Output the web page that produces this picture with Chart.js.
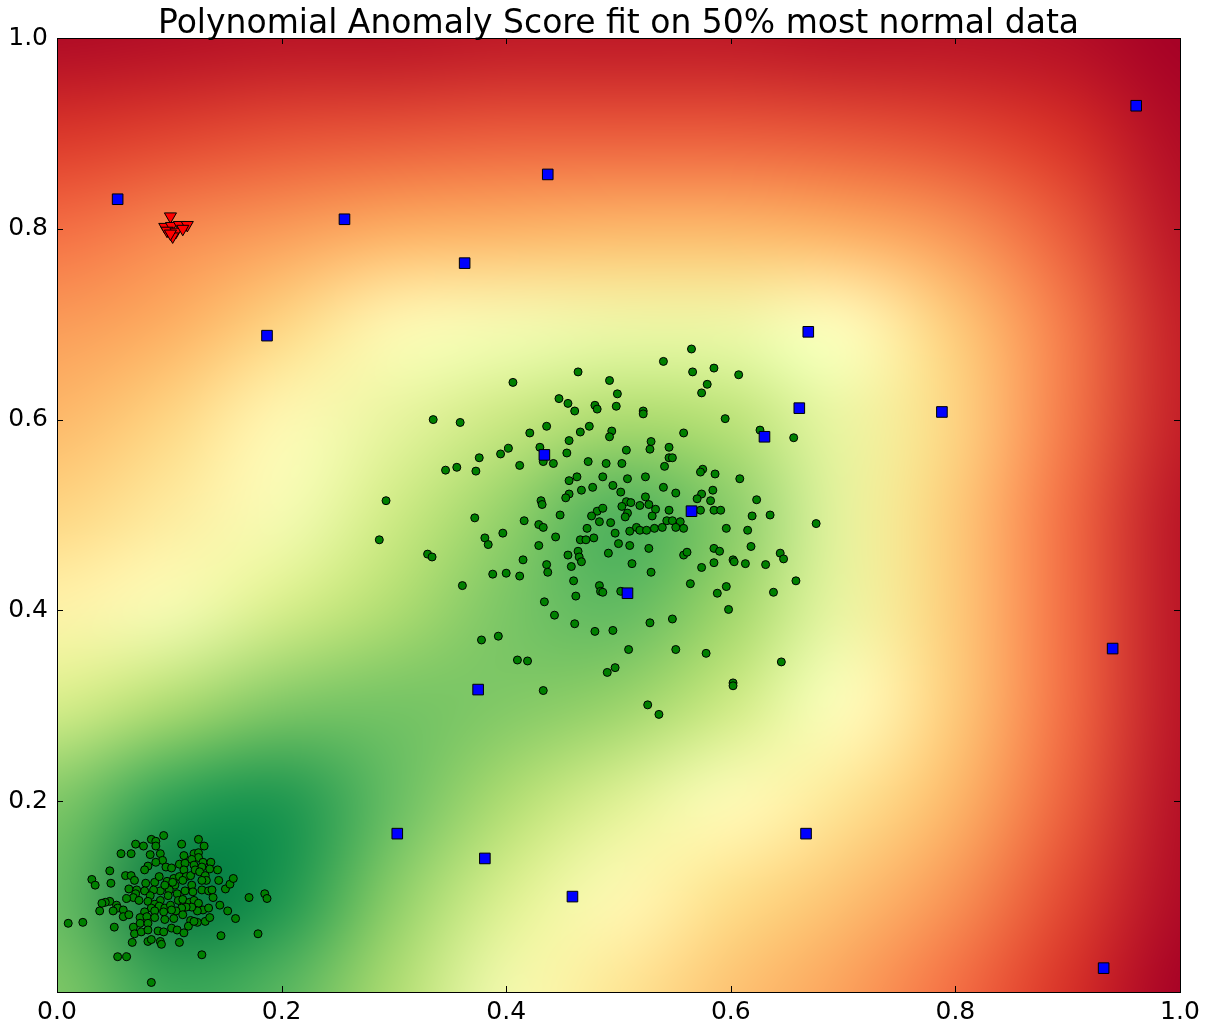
<!DOCTYPE html>
<html>
<head>
<meta charset="utf-8">
<script src="https://cdn.jsdelivr.net/npm/chart.js@4/dist/chart.umd.min.js"></script>
<style>
  html, body { margin: 0; padding: 0; background: #fff; }
  #wrap { width: 1212px; height: 1025px; }
</style>
</head>
<body>
<div id="wrap"><canvas id="chart"></canvas></div>
<script>
// ---- data ----
const titleText = 'Polynomial Anomaly Score fit on 50% most normal data';
const xTickValues = [0, 0.2, 0.4, 0.6, 0.8, 1.0];
const yTickValues = [0.2, 0.4, 0.6, 0.8, 1.0];

// normal samples, cluster near the origin
const lowerCluster = [
  [0.084,0.160],[0.095,0.164],[0.088,0.158],[0.088,0.153],[0.126,0.160],[0.131,0.153],[0.111,0.155],[0.070,0.155],
  [0.077,0.153],[0.057,0.145],[0.066,0.145],[0.083,0.144],[0.092,0.145],[0.113,0.143],[0.122,0.145],[0.126,0.146],
  [0.126,0.141],[0.094,0.138],[0.088,0.136],[0.081,0.132],[0.078,0.128],[0.097,0.131],[0.102,0.130],[0.109,0.134],
  [0.114,0.135],[0.120,0.139],[0.122,0.133],[0.130,0.136],[0.137,0.136],[0.136,0.129],[0.129,0.131],[0.143,0.128],
  [0.047,0.127],[0.031,0.118],[0.034,0.112],[0.048,0.114],[0.061,0.122],[0.066,0.122],[0.069,0.117],[0.064,0.108],
  [0.071,0.107],[0.070,0.103],[0.079,0.114],[0.087,0.115],[0.091,0.121],[0.098,0.116],[0.104,0.119],[0.109,0.121],
  [0.113,0.128],[0.115,0.121],[0.119,0.122],[0.123,0.128],[0.127,0.126],[0.132,0.122],[0.133,0.117],[0.129,0.117],
  [0.120,0.112],[0.112,0.117],[0.105,0.112],[0.100,0.107],[0.092,0.106],[0.086,0.107],[0.078,0.106],[0.083,0.101],
  [0.092,0.096],[0.099,0.101],[0.107,0.103],[0.114,0.106],[0.121,0.105],[0.129,0.107],[0.135,0.106],[0.138,0.107],
  [0.144,0.117],[0.150,0.108],[0.154,0.113],[0.157,0.119],[0.139,0.099],[0.145,0.091],[0.152,0.085],[0.159,0.077],
  [0.171,0.099],[0.185,0.103],[0.187,0.098],[0.179,0.061],[0.146,0.059],[0.129,0.039],[0.068,0.099],[0.062,0.098],
  [0.047,0.095],[0.043,0.094],[0.040,0.093],[0.053,0.091],[0.054,0.088],[0.038,0.085],[0.050,0.085],[0.059,0.086],
  [0.059,0.079],[0.064,0.081],[0.073,0.096],[0.081,0.095],[0.087,0.092],[0.084,0.088],[0.091,0.090],[0.096,0.088],
  [0.101,0.091],[0.108,0.096],[0.112,0.097],[0.118,0.094],[0.122,0.096],[0.126,0.093],[0.130,0.086],[0.135,0.088],
  [0.125,0.085],[0.120,0.089],[0.115,0.089],[0.111,0.088],[0.106,0.085],[0.102,0.086],[0.095,0.084],[0.087,0.085],
  [0.078,0.084],[0.074,0.078],[0.080,0.079],[0.087,0.078],[0.096,0.076],[0.104,0.077],[0.112,0.081],[0.119,0.075],
  [0.125,0.073],[0.132,0.074],[0.136,0.078],[0.074,0.072],[0.081,0.072],[0.068,0.068],[0.051,0.068],[0.069,0.061],
  [0.075,0.063],[0.081,0.065],[0.090,0.064],[0.095,0.063],[0.102,0.067],[0.107,0.065],[0.113,0.062],[0.117,0.069],
  [0.122,0.074],[0.067,0.052],[0.081,0.053],[0.092,0.053],[0.093,0.050],[0.109,0.052],[0.084,0.055],[0.054,0.037],
  [0.062,0.037],[0.084,0.010],[0.010,0.072],[0.023,0.073],[0.096,0.112],[0.103,0.115]
];

// normal samples, cluster around the centre
const upperCluster = [
  [0.406,0.639],[0.335,0.600],[0.359,0.597],[0.436,0.593],[0.421,0.586],[0.402,0.570],[0.430,0.571],[0.395,0.564],
  [0.376,0.560],[0.433,0.556],[0.442,0.554],[0.412,0.552],[0.356,0.550],[0.346,0.547],[0.373,0.546],[0.293,0.515],
  [0.431,0.515],[0.432,0.511],[0.372,0.497],[0.416,0.494],[0.429,0.490],
  [0.565,0.674],[0.540,0.661],[0.585,0.654],[0.566,0.650],[0.607,0.647],[0.464,0.650],[0.492,0.641],[0.579,0.637],
  [0.574,0.628],[0.499,0.627],[0.447,0.622],[0.455,0.617],[0.461,0.609],[0.479,0.615],[0.481,0.611],[0.498,0.614],
  [0.522,0.609],[0.522,0.606],[0.595,0.601],[0.474,0.593],[0.466,0.587],[0.494,0.588],[0.492,0.582],[0.558,0.586],
  [0.626,0.589],[0.656,0.581],[0.456,0.578],[0.529,0.577],[0.507,0.568],[0.528,0.569],[0.545,0.571],[0.454,0.565],
  [0.545,0.560],[0.548,0.560],[0.473,0.556],[0.489,0.554],[0.503,0.554],[0.541,0.551],[0.575,0.548],[0.573,0.545],
  [0.586,0.543],[0.608,0.538],[0.463,0.540],[0.456,0.536],[0.486,0.540],[0.508,0.538],[0.524,0.540],[0.467,0.526],
  [0.477,0.529],[0.495,0.531],[0.502,0.524],[0.540,0.529],[0.551,0.523],[0.584,0.526],[0.574,0.522],[0.570,0.517],
  [0.582,0.515],[0.623,0.516],[0.456,0.522],[0.453,0.518],[0.524,0.519],[0.507,0.514],[0.511,0.513],[0.519,0.510],
  [0.527,0.511],[0.503,0.509],[0.533,0.506],[0.545,0.505],[0.573,0.505],[0.585,0.505],[0.591,0.505],[0.508,0.502],
  [0.506,0.498],[0.481,0.504],[0.486,0.507],[0.476,0.499],[0.483,0.493],[0.493,0.492],[0.448,0.500],[0.530,0.499],
  [0.543,0.494],[0.548,0.494],[0.555,0.493],[0.619,0.499],[0.635,0.500],[0.676,0.491],
  [0.433,0.487],[0.287,0.474],[0.381,0.476],[0.384,0.469],[0.397,0.481],[0.429,0.468],[0.330,0.459],[0.334,0.456],
  [0.415,0.453],[0.436,0.448],[0.437,0.440],[0.388,0.438],[0.400,0.439],[0.412,0.436],[0.361,0.426],[0.434,0.409],
  [0.443,0.395],[0.378,0.369],[0.393,0.373],[0.410,0.348],[0.419,0.347],[0.433,0.316],
  [0.472,0.486],[0.444,0.477],[0.466,0.474],[0.471,0.474],[0.478,0.476],[0.497,0.481],[0.510,0.483],[0.516,0.487],
  [0.519,0.484],[0.525,0.484],[0.532,0.486],[0.539,0.487],[0.551,0.487],[0.558,0.486],[0.596,0.486],[0.615,0.484],
  [0.500,0.470],[0.510,0.468],[0.527,0.465],[0.491,0.460],[0.464,0.462],[0.465,0.456],[0.467,0.451],[0.455,0.458],
  [0.458,0.446],[0.512,0.449],[0.529,0.440],[0.558,0.458],[0.561,0.461],[0.585,0.465],[0.590,0.462],[0.618,0.467],
  [0.644,0.460],[0.647,0.454],[0.602,0.453],[0.603,0.451],[0.613,0.449],[0.631,0.448],[0.585,0.450],[0.574,0.445],
  [0.658,0.431],[0.564,0.428],[0.596,0.425],[0.588,0.418],[0.638,0.419],[0.598,0.401],[0.460,0.431],[0.483,0.426],
  [0.484,0.420],[0.486,0.419],[0.462,0.415],[0.502,0.420],[0.461,0.386],[0.479,0.378],[0.495,0.379],[0.528,0.387],
  [0.548,0.391],[0.509,0.359],[0.551,0.359],[0.578,0.355],[0.645,0.346],[0.497,0.340],[0.490,0.335],[0.602,0.324],
  [0.602,0.321],[0.526,0.301],[0.536,0.291]
];

// scattered outliers
const outliers = [
  [0.054,0.831],[0.256,0.810],[0.437,0.857],[0.363,0.764],[0.187,0.688],[0.961,0.929],[0.669,0.692],[0.661,0.612],
  [0.630,0.582],[0.788,0.608],[0.434,0.563],[0.565,0.504],[0.508,0.418],[0.375,0.317],[0.940,0.360],[0.303,0.166],
  [0.381,0.140],[0.459,0.100],[0.667,0.166],[0.932,0.025]
];

// tight group of anomalies
const anomalyGroup = [
  [0.101,0.813],[0.096,0.802],[0.102,0.803],[0.109,0.804],[0.116,0.804],[0.098,0.798],[0.106,0.797],[0.112,0.800],
  [0.103,0.792],[0.101,0.795]
];

// anomaly score field on a regular grid (0 = most anomalous, 1 = most normal)
const gridX = [0, 0.1, 0.2, 0.3, 0.4, 0.5, 0.6, 0.7, 0.8, 0.9, 1.0];
const gridY = [1.0, 0.9, 0.8, 0.7, 0.6, 0.5, 0.4, 0.3, 0.2, 0.1, 0];
const scoreGrid = [
  [0.02,0.03,0.04,0.04,0.05,0.05,0.05,0.04,0.04,0.03,0.00],
  [0.11,0.13,0.15,0.16,0.17,0.17,0.17,0.16,0.14,0.10,0.02],
  [0.20,0.24,0.27,0.30,0.31,0.32,0.32,0.30,0.26,0.17,0.04],
  [0.27,0.30,0.38,0.48,0.52,0.54,0.54,0.50,0.36,0.22,0.06],
  [0.32,0.38,0.48,0.56,0.63,0.69,0.66,0.55,0.38,0.22,0.06],
  [0.38,0.44,0.52,0.62,0.73,0.84,0.75,0.56,0.36,0.20,0.04],
  [0.46,0.52,0.60,0.68,0.77,0.81,0.71,0.55,0.36,0.20,0.04],
  [0.60,0.68,0.76,0.78,0.76,0.72,0.62,0.50,0.36,0.20,0.04],
  [0.76,0.88,0.91,0.80,0.68,0.58,0.49,0.42,0.32,0.18,0.03],
  [0.80,0.97,0.91,0.74,0.59,0.48,0.40,0.34,0.26,0.14,0.02],
  [0.76,0.86,0.82,0.68,0.53,0.42,0.34,0.28,0.20,0.10,0.00]
];

// RdYlGn colour ramp
const rampColors = ['#a50026','#d73027','#f46d43','#fdae61','#fee08b','#ffffbf','#d9ef8b','#a6d96a','#66bd63','#1a9850','#006837'];

function hexToRgb(h) {
  return [parseInt(h.slice(1,3),16), parseInt(h.slice(3,5),16), parseInt(h.slice(5,7),16)];
}
const rampRgb = rampColors.map(hexToRgb);
function rampColor(v) {
  const t = Math.max(0, Math.min(1, v)) * (rampRgb.length - 1);
  const i = Math.min(rampRgb.length - 2, Math.floor(t));
  const f = t - i;
  return rampRgb[i].map((c, k) => Math.round(c + (rampRgb[i + 1][k] - c) * f));
}

const toPoints = arr => arr.map(([x, y]) => ({ x, y }));
const FONT = 'DejaVu Sans';

// score field painted under the markers
const scoreFieldPlugin = {
  id: 'scoreField',
  beforeDatasetsDraw(chart) {
    const { ctx, chartArea: a, scales: { x, y } } = chart;
    const nx = gridX.length, ny = gridY.length;
    const off = document.createElement('canvas');
    off.width = nx; off.height = ny;
    const octx = off.getContext('2d');
    const img = octx.createImageData(nx, ny);
    for (let j = 0; j < ny; j++) {
      for (let i = 0; i < nx; i++) {
        const c = rampColor(scoreGrid[j][i]);
        const p = (j * nx + i) * 4;
        img.data[p] = c[0]; img.data[p + 1] = c[1]; img.data[p + 2] = c[2]; img.data[p + 3] = 255;
      }
    }
    octx.putImageData(img, 0, 0);
    const hx = (gridX[1] - gridX[0]) / 2;
    const hy = (gridY[0] - gridY[1]) / 2;
    const left = x.getPixelForValue(gridX[0] - hx);
    const right = x.getPixelForValue(gridX[nx - 1] + hx);
    const top = y.getPixelForValue(gridY[0] + hy);
    const bottom = y.getPixelForValue(gridY[ny - 1] - hy);
    ctx.save();
    ctx.beginPath();
    ctx.rect(a.left, a.top, a.right - a.left, a.bottom - a.top);
    ctx.clip();
    ctx.imageSmoothingEnabled = true;
    ctx.imageSmoothingQuality = 'high';
    ctx.drawImage(off, left, top, right - left, bottom - top);
    ctx.restore();
  }
};

// frame, inward ticks on all four sides, and the title
const framePlugin = {
  id: 'frame',
  afterDatasetsDraw(chart) {
    const { ctx, chartArea: a, scales: { x, y } } = chart;
    ctx.save();
    ctx.strokeStyle = '#000';
    ctx.lineWidth = 1;
    ctx.beginPath();
    const tl = 6;
    xTickValues.forEach(v => {
      const px = Math.round(x.getPixelForValue(v)) + 0.5;
      ctx.moveTo(px, a.bottom); ctx.lineTo(px, a.bottom - tl);
      ctx.moveTo(px, a.top); ctx.lineTo(px, a.top + tl);
    });
    yTickValues.forEach(v => {
      const py = Math.round(y.getPixelForValue(v)) + 0.5;
      ctx.moveTo(a.left, py); ctx.lineTo(a.left + tl, py);
      ctx.moveTo(a.right, py); ctx.lineTo(a.right - tl, py);
    });
    ctx.stroke();
    ctx.strokeRect(Math.round(a.left) + 0.5, Math.round(a.top) + 0.5,
                   Math.round(a.right - a.left), Math.round(a.bottom - a.top));
    ctx.fillStyle = '#000';
    ctx.font = '33px "' + FONT + '"';
    ctx.textAlign = 'center';
    ctx.textBaseline = 'alphabetic';
    ctx.fillText(titleText, (a.left + a.right) / 2, a.top - 5);
    ctx.restore();
  }
};

new Chart(document.getElementById('chart'), {
  type: 'scatter',
  data: {
    datasets: [
      {
        label: 'anomalies',
        data: toPoints(anomalyGroup),
        pointStyle: 'triangle',
        rotation: 180,
        pointRadius: 7,
        backgroundColor: '#ff0000',
        borderColor: '#000',
        borderWidth: 1,
        order: 1
      },
      {
        label: 'outliers',
        data: toPoints(outliers),
        pointStyle: 'rect',
        pointRadius: 7.5,
        backgroundColor: '#0000ff',
        borderColor: '#000',
        borderWidth: 1,
        order: 2
      },
      {
        label: 'normal',
        data: toPoints(lowerCluster.concat(upperCluster)),
        pointStyle: 'circle',
        pointRadius: 4,
        backgroundColor: '#008000',
        borderColor: '#000',
        borderWidth: 1,
        order: 3
      }
    ]
  },
  options: {
    responsive: true,
    maintainAspectRatio: false,
    animation: false,
    events: [],
    layout: { padding: { top: 38, right: 32, left: 0, bottom: 0 } },
    plugins: { legend: { display: false }, tooltip: { enabled: false }, title: { display: false } },
    scales: {
      x: {
        type: 'linear', min: 0, max: 1,
        grid: { display: false, drawTicks: false },
        border: { display: false },
        afterBuildTicks: s => { s.ticks = xTickValues.map(v => ({ value: v })); },
        afterFit: s => { s.height = 33; },
        ticks: {
          padding: 5, color: '#000',
          font: { family: FONT, size: 25 },
          maxRotation: 0, autoSkip: false,
          callback: v => Number(v).toFixed(1)
        }
      },
      y: {
        type: 'linear', min: 0, max: 1,
        grid: { display: false, drawTicks: false },
        border: { display: false },
        afterBuildTicks: s => { s.ticks = yTickValues.map(v => ({ value: v })); },
        afterFit: s => { s.width = 57; },
        ticks: {
          padding: 9, color: '#000',
          font: { family: FONT, size: 25 },
          autoSkip: false,
          callback: v => Number(v).toFixed(1)
        }
      }
    }
  },
  plugins: [scoreFieldPlugin, framePlugin]
});
</script>
</body>
</html>
